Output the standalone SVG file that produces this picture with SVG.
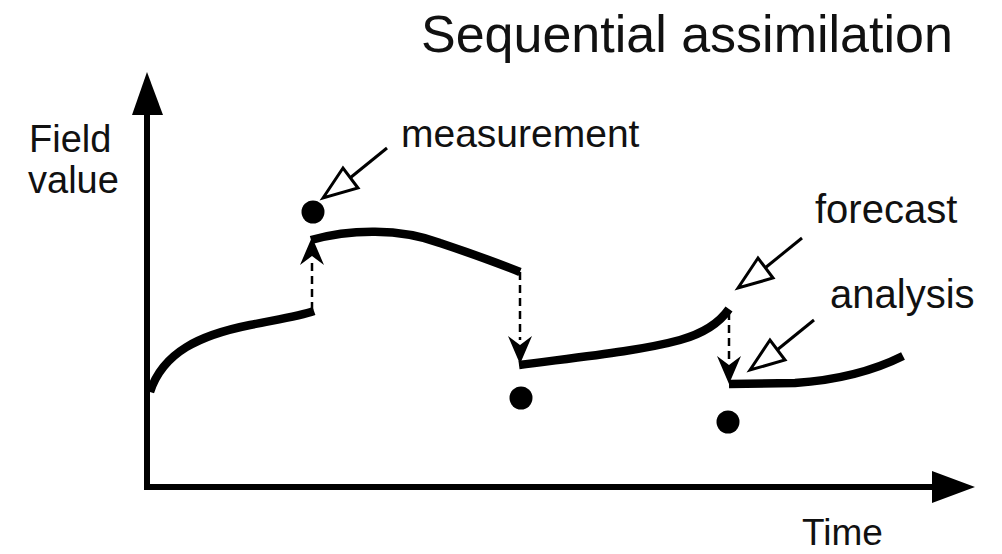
<svg xmlns="http://www.w3.org/2000/svg" width="1002" height="554" viewBox="0 0 1002 554">
<style>
  .lbl { font-family: "Liberation Sans", Arial, sans-serif; fill: #111; }
  .axis { stroke: #000; stroke-width: 6; fill: none; }
  .curve { stroke: #000; stroke-width: 8.5; fill: none; stroke-linejoin: round; }
  .dash { stroke: #000; stroke-width: 2.5; stroke-dasharray: 8 5; fill: none; }
  .head { fill: #000; }
  .ptr-line { stroke: #000; stroke-width: 3; fill: none; }
  .ptr-tri { stroke: #000; stroke-width: 3; fill: #fff; stroke-linejoin: miter; }
  .dot { fill: #000; }
</style>
<defs>
  <g id="pointer">
    <line class="ptr-line" x1="27" y1="-20" x2="64" y2="-50"/>
    <polygon class="ptr-tri" points="0,0 20,-30 35,-10"/>
  </g>
  <polygon id="dhead" class="head" points="0,0 -12,-28 0,-19 12,-28"/>
</defs>
<rect width="1002" height="554" fill="#fff"/>

<g id="title">
  <text class="lbl" x="421" y="52" font-size="52">Sequential assimilation</text>
</g>

<g id="axes">
  <polyline class="axis" points="147,110 147,487 936,487"/>
  <polygon class="head" points="147,72 132,115 163,115"/>
  <polygon class="head" points="975,487 932,471 932,503"/>
</g>

<g id="y-label">
  <text class="lbl" x="29" y="152" font-size="38">Field</text>
  <text class="lbl" x="28" y="193" font-size="38">value</text>
</g>
<g id="x-label">
  <text class="lbl" x="802" y="545" font-size="37">Time</text>
</g>

<g id="trajectory">
  <path class="curve" d="M150,392 C163,352 200,335 250,325 C280,319 300,316 314,311"/>
  <path class="curve" d="M311,240 C350,229 400,228 440,243 C470,253 495,262 520,272"/>
  <path class="curve" d="M519,365 C580,357 640,351 680,340 C705,333 720,322 729,309"/>
  <path class="curve" d="M729,384 L795,383 C840,380 875,370 903,356"/>
</g>

<g id="measurements">
  <circle class="dot" cx="313" cy="212" r="11.5"/>
  <circle class="dot" cx="521" cy="398" r="11.5"/>
  <circle class="dot" cx="728" cy="422" r="11.5"/>
</g>

<g id="labels">
  <text class="lbl" x="401" y="147" font-size="39">measurement</text>
  <text class="lbl" x="815" y="223" font-size="40">forecast</text>
  <text class="lbl" x="830" y="308" font-size="40">analysis</text>
</g>

<g id="connectors">
  <line class="dash" x1="312" y1="310" x2="312" y2="262"/>
  <use href="#dhead" transform="translate(312,237) rotate(180)"/>
  <line class="dash" x1="520" y1="272" x2="520" y2="340"/>
  <use href="#dhead" transform="translate(520,364)"/>
  <line class="dash" x1="729" y1="312" x2="729" y2="362"/>
  <use href="#dhead" transform="translate(729,384)"/>
  <use href="#pointer" transform="translate(323,198)"/>
  <use href="#pointer" transform="translate(738,288)"/>
  <use href="#pointer" transform="translate(750,370)"/>
</g>
</svg>
